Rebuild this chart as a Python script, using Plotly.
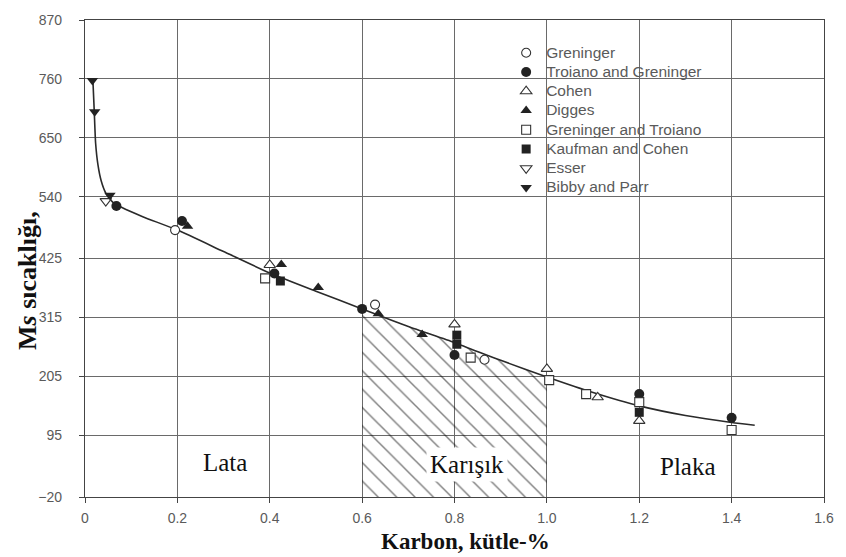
import plotly.graph_objects as go

# ---------------- data ----------------
x_ticks = [0, 0.2, 0.4, 0.6, 0.8, 1.0, 1.2, 1.4, 1.6]
x_ticktext = ["0", "0.2", "0.4", "0.6", "0.8", "1.0", "1.2", "1.4", "1.6"]
y_ticks = [-20, 95, 205, 315, 425, 540, 650, 760, 870]
y_ticktext = ["\u221220", "95", "205", "315", "425", "540", "650", "760", "870"]

curve_x = [0.017, 0.020, 0.023, 0.028, 0.035, 0.045, 0.060, 0.080, 0.125, 0.20, 0.30, 0.40,
           0.50, 0.60, 0.70, 0.80, 0.90, 1.00, 1.10, 1.20, 1.30, 1.40, 1.45]
curve_y = [760, 700, 640, 600, 570, 547, 530, 520, 503, 478, 438, 398,
           364, 331, 298, 268, 235, 204, 175, 150, 132, 119, 114]

greninger_x = [0.195, 0.628, 0.865]
greninger_y = [478, 339, 236]
troiano_greninger_x = [0.068, 0.21, 0.41, 0.60, 0.80, 1.20, 1.40]
troiano_greninger_y = [523, 495, 397, 331, 245, 172, 128]
cohen_x = [0.40, 0.80, 1.00, 1.11, 1.20]
cohen_y = [413, 302, 219, 166, 122]
digges_x = [0.222, 0.425, 0.505, 0.635, 0.73]
digges_y = [485, 414, 371, 322, 283]
greninger_troiano_x = [0.39, 0.835, 1.005, 1.085, 1.20, 1.40]
greninger_troiano_y = [388, 240, 198, 172, 157, 105]
kaufman_cohen_x = [0.423, 0.805, 0.805, 1.20]
kaufman_cohen_y = [383, 282, 265, 138]
esser_x = [0.045]
esser_y = [532]
bibby_parr_x = [0.016, 0.021, 0.054]
bibby_parr_y = [757, 699, 543]

mixed_start, mixed_end = 0.6, 1.0
region_labels = ["Lata", "Karışık", "Plaka"]
region_x = [0.303, 0.828, 1.306]
region_y = [44, 41, 37]

# ---------------- figure ----------------
fig = go.Figure()

# hatched "Karışık" region under the curve
hx = [mixed_start] + [x for x in curve_x if mixed_start < x < mixed_end] + [mixed_end]
hy_top = [331] + [y for x, y in zip(curve_x, curve_y) if mixed_start < x < mixed_end] + [204]
poly_x = [mixed_start] + hx + [mixed_end, mixed_start]
poly_y = [-20] + hy_top + [-20, -20]
fig.add_trace(go.Scatter(
    x=poly_x, y=poly_y, mode="lines", fill="toself",
    line=dict(width=0, color="rgba(0,0,0,0)"),
    fillcolor="rgba(0,0,0,0)",
    fillpattern=dict(shape="\\", fgcolor="#000000", bgcolor="rgba(0,0,0,0)", size=13, solidity=0.11),
    showlegend=False, hoverinfo="skip"))

fig.add_trace(go.Scatter(
    x=curve_x, y=curve_y, mode="lines",
    line=dict(color="#2a2a2a", width=1.6, shape="spline", smoothing=0.6),
    showlegend=False, hoverinfo="skip"))

OPEN = dict(color="white", line=dict(color="#333333", width=1.1))
FILL = dict(color="#222222", line=dict(color="#222222", width=0))

series = [
    ("Greninger", greninger_x, greninger_y, "circle", OPEN, 9),
    ("Troiano and Greninger", troiano_greninger_x, troiano_greninger_y, "circle", FILL, 10),
    ("Cohen", cohen_x, cohen_y, "triangle-up", OPEN, 10),
    ("Digges", digges_x, digges_y, "triangle-up", FILL, 10),
    ("Greninger and Troiano", greninger_troiano_x, greninger_troiano_y, "square", OPEN, 9),
    ("Kaufman and Cohen", kaufman_cohen_x, kaufman_cohen_y, "square", FILL, 9),
    ("Esser", esser_x, esser_y, "triangle-down", OPEN, 10),
    ("Bibby and Parr", bibby_parr_x, bibby_parr_y, "triangle-down", FILL, 10),
]
for name, xs, ys, sym, sty, sz in series:
    fig.add_trace(go.Scatter(
        x=xs, y=ys, mode="markers",
        name='<span style="font-size:15.5px">' + name + "</span>",
        marker=dict(symbol=sym, size=sz, color=sty["color"], line=sty["line"])))

axis_common = dict(
    showgrid=True, gridcolor="#6a6a6a", gridwidth=1,
    showline=True, linecolor="#444444", linewidth=1.3, mirror=True,
    ticks="outside", ticklen=5, tickcolor="#444444",
    tickfont=dict(family="Liberation Sans, Arial, sans-serif", size=14, color="#5a5a5a"),
    zeroline=False,
)

fig.update_xaxes(range=[0, 1.6], tickvals=x_ticks, ticktext=x_ticktext,
                 ticklabelstandoff=3, **axis_common)
fig.update_yaxes(range=[-20, 870], tickvals=y_ticks, ticktext=y_ticktext,
                 ticklabelstandoff=14, **axis_common)

annotations = []
for t, xv, yv in zip(region_labels, region_x, region_y):
    annotations.append(dict(
        x=xv, y=yv, xref="x", yref="y", text=t, showarrow=False,
        font=dict(family="Liberation Serif, Times New Roman, serif", size=25, color="#111111"),
        bgcolor="white" if t == "Karışık" else "rgba(0,0,0,0)", borderpad=3,
        xanchor="center", yanchor="middle"))

annotations.append(dict(
    x=0.5148, y=-0.093, xref="paper", yref="paper", text="<b>Karbon, kütle-%</b>",
    showarrow=False, xanchor="center", yanchor="middle",
    font=dict(family="Liberation Serif, Times New Roman, serif", size=23, color="#111111")))
annotations.append(dict(
    x=-0.077, y=0.453, xref="paper", yref="paper", text="<b>M<i>s</i> sıcaklığı,</b>",
    showarrow=False, xanchor="center", yanchor="middle", textangle=-90,
    font=dict(family="Liberation Serif, Times New Roman, serif", size=26, color="#111111")))

fig.update_layout(
    width=846, height=557,
    margin=dict(l=85, r=17, t=14, b=60),
    paper_bgcolor="white", plot_bgcolor="white",
    legend=dict(x=0.5699, y=0.962, xanchor="left", yanchor="top",
                bgcolor="rgba(0,0,0,0)", borderwidth=0, tracegroupgap=0,
                font=dict(family="Liberation Sans, Arial, sans-serif", size=12.5, color="#5a5a5a")),
    annotations=annotations,
    showlegend=True,
)

fig.write_html("out.html")
